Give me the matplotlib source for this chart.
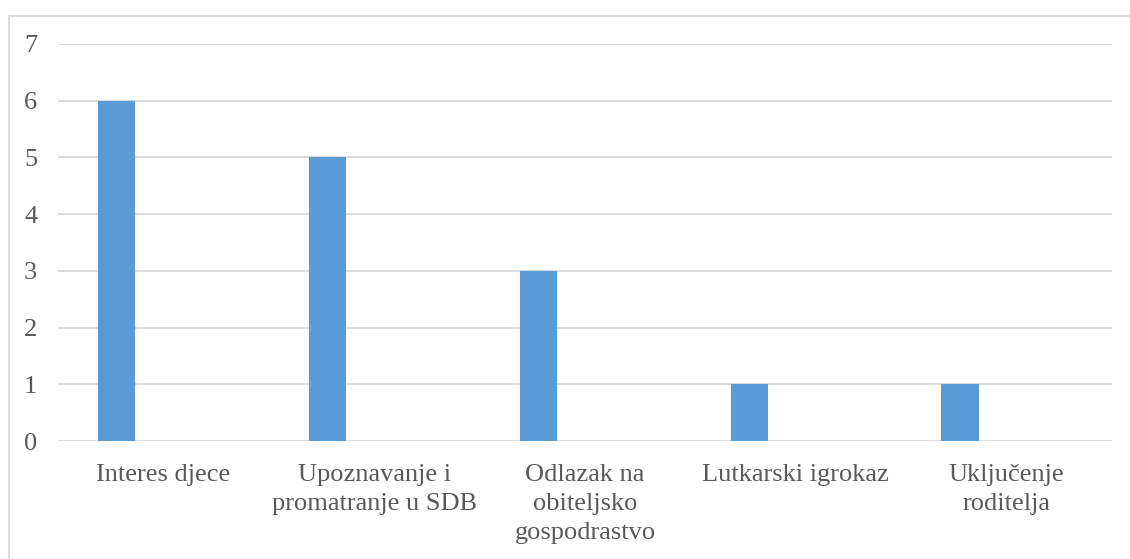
import matplotlib
matplotlib.use("Agg")
import matplotlib.pyplot as plt
from matplotlib.lines import Line2D

categories = ["Interes djece", "Upoznavanje i\npromatranje u SDB", "Odlazak na\nobiteljsko\ngospodrastvo",
              "Lutkarski igrokaz", "Uključenje\nroditelja"]
values = [6, 5, 3, 1, 1]
yticks = [0, 1, 2, 3, 4, 5, 6, 7]

plt.rcParams['font.family'] = ['Liberation Serif', 'DejaVu Serif']
W, H = 1130, 559
fig = plt.figure(figsize=(W / 100, H / 100), dpi=100)
ax = fig.add_axes([58 / W, 1 - 441 / H, (1112 - 58) / W, (441 - 44) / H])

n = len(categories)
xs = [i - 0.221 for i in range(n)]
ax.bar(xs, values, width=0.176, color='#5b9bd5', zorder=3)

ax.set_xlim(-0.5, n - 0.5)
ax.set_ylim(0, 7)
ax.set_yticks(yticks)
ax.set_yticklabels([str(t) for t in yticks])
ax.set_xticks(range(n))
ax.set_xticklabels(categories, linespacing=1.4)
ax.grid(axis='y', color='#d9d9d9', linewidth=1.3, zorder=0)
for s in ax.spines.values():
    s.set_visible(False)
ax.tick_params(axis='both', length=0, labelsize=19, colors='#595959')
ax.tick_params(axis='y', pad=15)
ax.tick_params(axis='x', pad=16.5)

# chart border (left & top visible)
fig.add_artist(Line2D([8.5 / W, 8.5 / W], [0, 1 - 15.5 / H], color='#d9d9d9', lw=1.3, transform=fig.transFigure))
fig.add_artist(Line2D([8.5 / W, 1], [1 - 15.5 / H, 1 - 15.5 / H], color='#d9d9d9', lw=1.3, transform=fig.transFigure))

fig.savefig("out.png", dpi=100)
